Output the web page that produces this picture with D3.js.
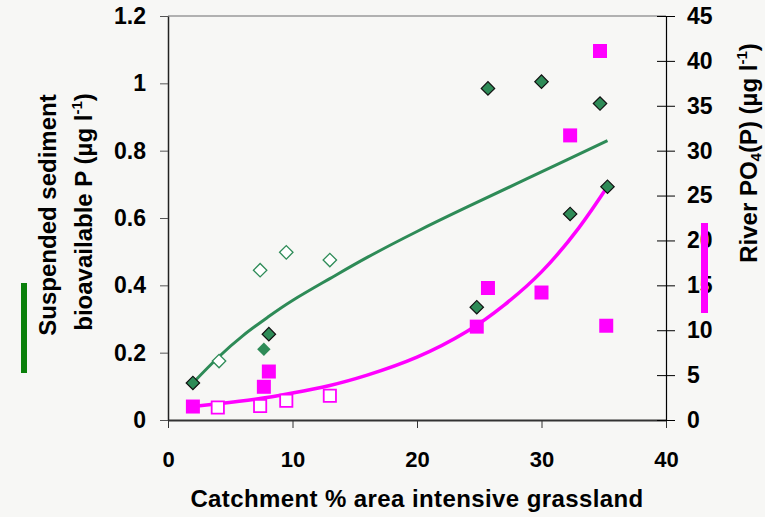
<!DOCTYPE html>
<meta charset="utf-8">
<head>
    <script type="text/javascript" src="https://cdn.jsdelivr.net/npm/d3@7"></script>
    <style>
        body { margin: 0; background: #f7f7f5; }
        svg { display: block; font-family: "Liberation Sans", Arial, sans-serif; font-weight: bold; }
    </style>
</head>
<body>
<div id="chart"></div>
</body>
<script>

    // suspended sediment bioavailable P (left axis), filled diamonds with outline
    var sedX = [2, 8.1, 24.8, 25.7, 30, 32.3, 34.7, 35.3];
    var sedP = [0.11, 0.255, 0.335, 0.985, 1.005, 0.612, 0.94, 0.693];
    // one filled diamond drawn without outline
    var sedPlainX = [7.7];
    var sedPlainP = [0.21];
    // open diamonds
    var sedOpenX = [4.1, 7.4, 9.5, 13];
    var sedOpenP = [0.175, 0.445, 0.498, 0.475];

    // river PO4(P) (right axis), filled squares
    var poX = [2, 7.7, 8.1, 24.8, 25.7, 30, 32.3, 34.7, 35.2];
    var poP = [1.5, 3.7, 5.4, 10.4, 14.7, 14.2, 31.7, 41.1, 10.5];
    // open squares
    var poOpenX = [4.0, 7.4, 9.5, 13];
    var poOpenP = [1.4, 1.55, 2.15, 2.7];

    // trend lines
    var sedTrendX = [2, 4, 6, 8, 10, 13, 16, 20, 24, 28, 32, 35.3];
    var sedTrendP = [0.11, 0.185, 0.25, 0.305, 0.355, 0.42, 0.483, 0.56, 0.632, 0.702, 0.772, 0.83];
    var poTrendX = [2, 4, 7, 10, 13, 16, 20, 24, 27, 30, 33, 35.3];
    var poTrendP = [1.5, 1.8, 2.3, 3.0, 3.85, 5.0, 7.0, 9.85, 12.8, 16.5, 21.4, 26.0];

    // ticks
    var xTicks = [0, 10, 20, 30, 40];
    var xTickLabels = ["0", "10", "20", "30", "40"];
    var leftTicks = [0, 0.2, 0.4, 0.6, 0.8, 1, 1.2];
    var leftTickLabels = ["0", "0.2", "0.4", "0.6", "0.8", "1", "1.2"];
    var rightTicks = [0, 5, 10, 15, 20, 25, 30, 35, 40, 45];
    var rightTickLabels = ["0", "5", "10", "15", "20", "25", "30", "35", "40", "45"];

    var W = 765, H = 517;
    var margin = {top: 16, right: 99, bottom: 97, left: 168};

    var svg = d3.select('#chart').append('svg')
        .attr('width', W)
        .attr('height', H);

    svg.append('rect').attr('width', W).attr('height', H).attr('fill', '#f7f7f5');

    var x = d3.scaleLinear().domain([0, 40]).range([margin.left, W - margin.right]);
    var yL = d3.scaleLinear().domain([0, 1.2]).range([H - margin.bottom, margin.top]);
    var yR = d3.scaleLinear().domain([0, 45]).range([H - margin.bottom, margin.top]);

    // top border of plot area
    svg.append('line')
        .attr('x1', x(0)).attr('x2', x(40))
        .attr('y1', yL(1.2)).attr('y2', yL(1.2))
        .attr('stroke', '#9a9a9a').attr('stroke-width', 1.5);

    // axes
    var gx = svg.append('g')
        .attr('transform', 'translate(0,' + (H - margin.bottom) + ')')
        .call(d3.axisBottom(x).tickValues(xTicks)
            .tickFormat(function (d, i) { return xTickLabels[i]; })
            .tickSize(8).tickSizeOuter(0).tickPadding(23));
    gx.select('.domain').attr('stroke', '#333').attr('stroke-width', 2);
    gx.selectAll('.tick line').attr('stroke', '#333');
    gx.selectAll('text').attr('font-size', 22).attr('font-family', null).attr('fill', '#000');

    var gl = svg.append('g')
        .attr('transform', 'translate(' + margin.left + ',0)')
        .call(d3.axisLeft(yL).tickValues(leftTicks)
            .tickFormat(function (d, i) { return leftTickLabels[i]; })
            .tickSize(8).tickSizeOuter(0).tickPadding(14));
    gl.select('.domain').attr('stroke', '#222').attr('stroke-width', 1.5);
    gl.selectAll('.tick line').attr('stroke', '#555');
    gl.selectAll('text').attr('font-size', 23).attr('font-family', null).attr('fill', '#000');

    var gr = svg.append('g')
        .attr('transform', 'translate(' + (W - margin.right) + ',0)')
        .call(d3.axisRight(yR).tickValues(rightTicks)
            .tickFormat(function (d, i) { return rightTickLabels[i]; })
            .tickSize(9).tickSizeOuter(0).tickPadding(12));
    gr.select('.domain').attr('stroke', '#000').attr('stroke-width', 1.2);
    gr.selectAll('.tick line').attr('x1', -9).attr('stroke', '#000');
    gr.selectAll('text').attr('font-size', 23).attr('font-family', null).attr('fill', '#000');

    // trend lines
    var lineL = d3.line()
        .x(function (d) { return x(d[0]); })
        .y(function (d) { return yL(d[1]); })
        .curve(d3.curveNatural);
    var lineR = d3.line()
        .x(function (d) { return x(d[0]); })
        .y(function (d) { return yR(d[1]); })
        .curve(d3.curveNatural);

    svg.append('path')
        .datum(d3.zip(sedTrendX, sedTrendP))
        .attr('d', lineL)
        .attr('fill', 'none').attr('stroke', '#2e8b57').attr('stroke-width', 3);
    svg.append('path')
        .datum(d3.zip(poTrendX, poTrendP))
        .attr('d', lineR)
        .attr('fill', 'none').attr('stroke', '#ff00ff').attr('stroke-width', 3.5);

    // markers
    var diamond = d3.symbol(d3.symbolSquare, 90);
    var square = d3.symbol(d3.symbolSquare, 196);
    var openSquare = d3.symbol(d3.symbolSquare, 150);

    svg.selectAll('.po-open').data(d3.zip(poOpenX, poOpenP)).enter()
        .append('path').attr('class', 'po-open')
        .attr('d', openSquare)
        .attr('transform', function (d) { return 'translate(' + x(d[0]) + ',' + yR(d[1]) + ')'; })
        .attr('fill', '#fff').attr('stroke', '#ff00ff').attr('stroke-width', 1.8);

    svg.selectAll('.po').data(d3.zip(poX, poP)).enter()
        .append('path').attr('class', 'po')
        .attr('d', square)
        .attr('transform', function (d) { return 'translate(' + x(d[0]) + ',' + yR(d[1]) + ')'; })
        .attr('fill', '#ff00ff');

    svg.selectAll('.sed-open').data(d3.zip(sedOpenX, sedOpenP)).enter()
        .append('path').attr('class', 'sed-open')
        .attr('d', diamond)
        .attr('transform', function (d) { return 'translate(' + x(d[0]) + ',' + yL(d[1]) + ') rotate(45)'; })
        .attr('fill', '#fff').attr('stroke', '#2e8b57').attr('stroke-width', 1.3);

    svg.selectAll('.sed-plain').data(d3.zip(sedPlainX, sedPlainP)).enter()
        .append('path').attr('class', 'sed-plain')
        .attr('d', diamond)
        .attr('transform', function (d) { return 'translate(' + x(d[0]) + ',' + yL(d[1]) + ') rotate(45)'; })
        .attr('fill', '#2e8b57');

    svg.selectAll('.sed').data(d3.zip(sedX, sedP)).enter()
        .append('path').attr('class', 'sed')
        .attr('d', diamond)
        .attr('transform', function (d) { return 'translate(' + x(d[0]) + ',' + yL(d[1]) + ') rotate(45)'; })
        .attr('fill', '#2e8b57').attr('stroke', '#111').attr('stroke-width', 1.2);

    // x axis title
    svg.append('text')
        .attr('x', (x(0) + x(40)) / 2).attr('y', 507)
        .attr('text-anchor', 'middle')
        .attr('font-size', 24).attr('letter-spacing', 0.4)
        .text('Catchment % area intensive grassland');

    // left axis title, two lines
    var tl = svg.append('text')
        .attr('transform', 'translate(56,215) rotate(-90)')
        .attr('text-anchor', 'middle')
        .attr('font-size', 24);
    tl.append('tspan').attr('x', 0).attr('y', 0).text('Suspended sediment');
    var tl2 = svg.append('text')
        .attr('transform', 'translate(92,212) rotate(-90)')
        .attr('text-anchor', 'middle')
        .attr('font-size', 24);
    tl2.append('tspan').text('bioavailable P (\u00b5g l');
    tl2.append('tspan').attr('font-size', 15).attr('dy', -10).text('-1');
    tl2.append('tspan').attr('dy', 10).text(')');

    // right axis title
    var tr = svg.append('text')
        .attr('transform', 'translate(757,153) rotate(-90)')
        .attr('text-anchor', 'middle')
        .attr('font-size', 24);
    tr.append('tspan').text('River PO');
    tr.append('tspan').attr('font-size', 15).attr('dy', 4).text('4');
    tr.append('tspan').attr('dy', -4).text('(P) (\u00b5g l');
    tr.append('tspan').attr('font-size', 15).attr('dy', -10).text('-1');
    tr.append('tspan').attr('dy', 10).text(')');

    // series markers beside the axis titles
    svg.append('rect').attr('x', 21).attr('y', 283).attr('width', 6).attr('height', 90).attr('fill', '#0a800a');
    svg.append('rect').attr('x', 701).attr('y', 223).attr('width', 7).attr('height', 90).attr('fill', '#ff00ff');

</script>
</html>
